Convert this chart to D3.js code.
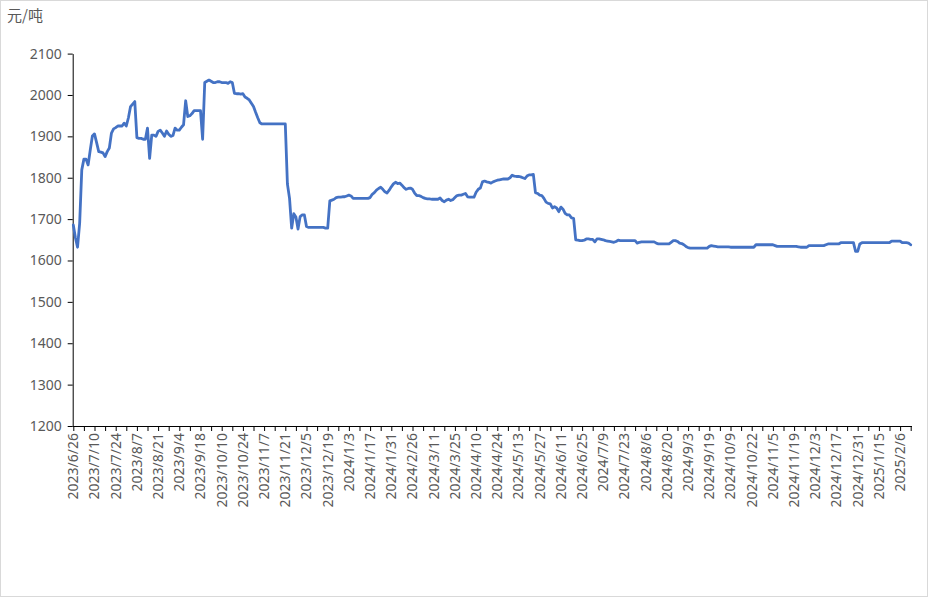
<!DOCTYPE html>
<html><head><meta charset="utf-8">
<script src="https://cdn.jsdelivr.net/npm/d3@7"></script>
<style>
html,body{margin:0;padding:0;background:#fff;}
svg{display:block;font-family:"Noto Sans","Noto Sans CJK SC",sans-serif;}
</style></head>
<body>
<svg id="chart" width="928" height="597"></svg>
<script>
// Tick labels shown every 10 trading days on the category axis
const tickLabels = ["2023/6/26","2023/7/10","2023/7/24","2023/8/7","2023/8/21","2023/9/4","2023/9/18","2023/10/10","2023/10/24","2023/11/7","2023/11/21","2023/12/5","2023/12/19",
"2024/1/3","2024/1/17","2024/1/31","2024/2/26","2024/3/11","2024/3/25","2024/4/10","2024/4/24","2024/5/13","2024/5/27","2024/6/11","2024/6/25","2024/7/9","2024/7/23","2024/8/6","2024/8/20","2024/9/3","2024/9/19","2024/10/9","2024/10/22","2024/11/5","2024/11/19","2024/12/3","2024/12/17","2024/12/31",
"2025/1/15","2025/2/6"];
const yTicks = [1200,1300,1400,1500,1600,1700,1800,1900,2000,2100];
const unitLabel = "元/吨";
// Daily price (元/吨), one value per trading day
const prices = [
1686,1655,1632,1690,1819,1845,1845,1831,1867,1901,
1906,1885,1863,1862,1860,1851,1863,1872,1908,1918,
1921,1925,1925,1925,1932,1925,1945,1972,1978,1984,
1897,1895,1895,1893,1893,1920,1847,1903,1903,1900,
1912,1915,1908,1900,1913,1905,1900,1902,1920,1915,
1915,1922,1928,1986,1948,1950,1955,1962,1962,1962,
1962,1893,2030,2033,2036,2033,2030,2030,2032,2032,
2030,2030,2030,2028,2032,2030,2004,2003,2003,2002,
2003,1995,1992,1988,1980,1972,1958,1945,1933,1930,
1930,1930,1930,1930,1930,1930,1930,1930,1930,1930,
1930,1785,1750,1678,1713,1705,1676,1706,1710,1710,
1682,1680,1680,1680,1680,1680,1680,1680,1680,1678,
1678,1744,1746,1748,1752,1753,1753,1754,1754,1756,
1758,1756,1750,1750,1750,1750,1750,1750,1750,1750,
1752,1760,1764,1770,1774,1777,1772,1766,1763,1770,
1778,1785,1789,1786,1787,1782,1776,1772,1774,1775,
1772,1763,1757,1757,1755,1752,1750,1749,1749,1748,
1748,1748,1748,1751,1745,1742,1746,1748,1745,1747,
1752,1757,1758,1758,1760,1762,1754,1753,1753,1753,
1765,1772,1775,1790,1792,1790,1789,1787,1790,1792,
1794,1795,1796,1797,1797,1797,1800,1806,1804,1803,
1803,1802,1800,1798,1804,1807,1807,1808,1764,1762,
1758,1757,1750,1741,1738,1737,1727,1730,1727,1718,
1729,1724,1714,1710,1710,1703,1702,1650,1649,1648,
1648,1649,1652,1652,1651,1651,1645,1652,1652,1651,
1650,1648,1647,1646,1645,1644,1646,1649,1648,1648,
1648,1648,1648,1648,1648,1648,1642,1644,1645,1645,
1645,1645,1645,1645,1645,1642,1640,1640,1640,1640,
1640,1640,1644,1648,1648,1646,1642,1641,1638,1634,
1631,1630,1630,1630,1630,1630,1630,1630,1630,1630,
1634,1636,1635,1634,1633,1633,1633,1633,1633,1633,
1632,1632,1632,1632,1632,1632,1632,1632,1632,1632,
1632,1632,1638,1638,1638,1638,1638,1638,1638,1638,
1638,1636,1634,1634,1634,1634,1634,1634,1634,1634,
1634,1634,1633,1632,1632,1632,1632,1636,1636,1636,
1636,1636,1636,1636,1636,1638,1640,1640,1640,1640,
1640,1640,1643,1643,1643,1643,1643,1643,1643,1622,
1622,1640,1643,1643,1643,1643,1643,1643,1643,1643,
1643,1643,1643,1643,1643,1643,1647,1647,1647,1647,
1647,1643,1643,1643,1642,1638
];

const svg = d3.select("#chart");
// outer border
svg.append("rect").attr("x",0.5).attr("y",0.5).attr("width",927).attr("height",596)
  .attr("fill","#fff").attr("stroke","#d9d9d9");

const idx = d3.range(prices.length);
const x = d3.scalePoint().domain(idx).range([73.3, 910.7]);
const y = d3.scaleLinear().domain([1200, 2100]).range([426, 53.6]);

// Y axis
const yAxis = svg.append("g").attr("transform","translate(72.7,0)")
  .call(d3.axisLeft(y).tickValues(yTicks).tickSize(5).tickSizeOuter(0).tickPadding(6).tickFormat(d3.format("d")));
yAxis.select(".domain").attr("stroke","#000");
yAxis.selectAll(".tick line").attr("stroke","#000");
yAxis.selectAll(".tick text").attr("fill","#595959").style("font-size","14px")
  .style("font-family","'Noto Sans',sans-serif");

// X axis
const xTickIdx = idx.filter(i => i % 5 === 0);
const xAxis = svg.append("g").attr("transform","translate(0,426)")
  .call(d3.axisBottom(x).tickValues(xTickIdx).tickSize(5).tickSizeOuter(0).tickFormat(""));
xAxis.select(".domain").attr("stroke","#000").attr("d","M72.7,0.5H912");
xAxis.selectAll(".tick line").attr("stroke","#000");

// X labels every 10 categories
svg.append("g").selectAll("text")
  .data(tickLabels)
  .join("text")
  .attr("transform",(d,i)=>`translate(${x(i*10)},433) rotate(-90)`)
  .attr("text-anchor","end")
  .attr("dy","0.35em")
  .attr("fill","#595959")
  .style("font-size","14px")
  .text(d=>d);

// Unit label
svg.append("text").attr("x",7).attr("y",21).attr("fill","#595959")
  .style("font-size","15px").style("font-family","'Noto Sans CJK SC','Noto Sans',sans-serif")
  .text(unitLabel);

// Line
const line = d3.line().x((d,i)=>x(i)).y(d=>y(d)).curve(d3.curveLinear);
svg.append("path").datum(prices)
  .attr("fill","none").attr("stroke","#4472C4").attr("stroke-width",2.8)
  .attr("stroke-linejoin","round").attr("stroke-linecap","round")
  .attr("d",line);
</script>
</body></html>
